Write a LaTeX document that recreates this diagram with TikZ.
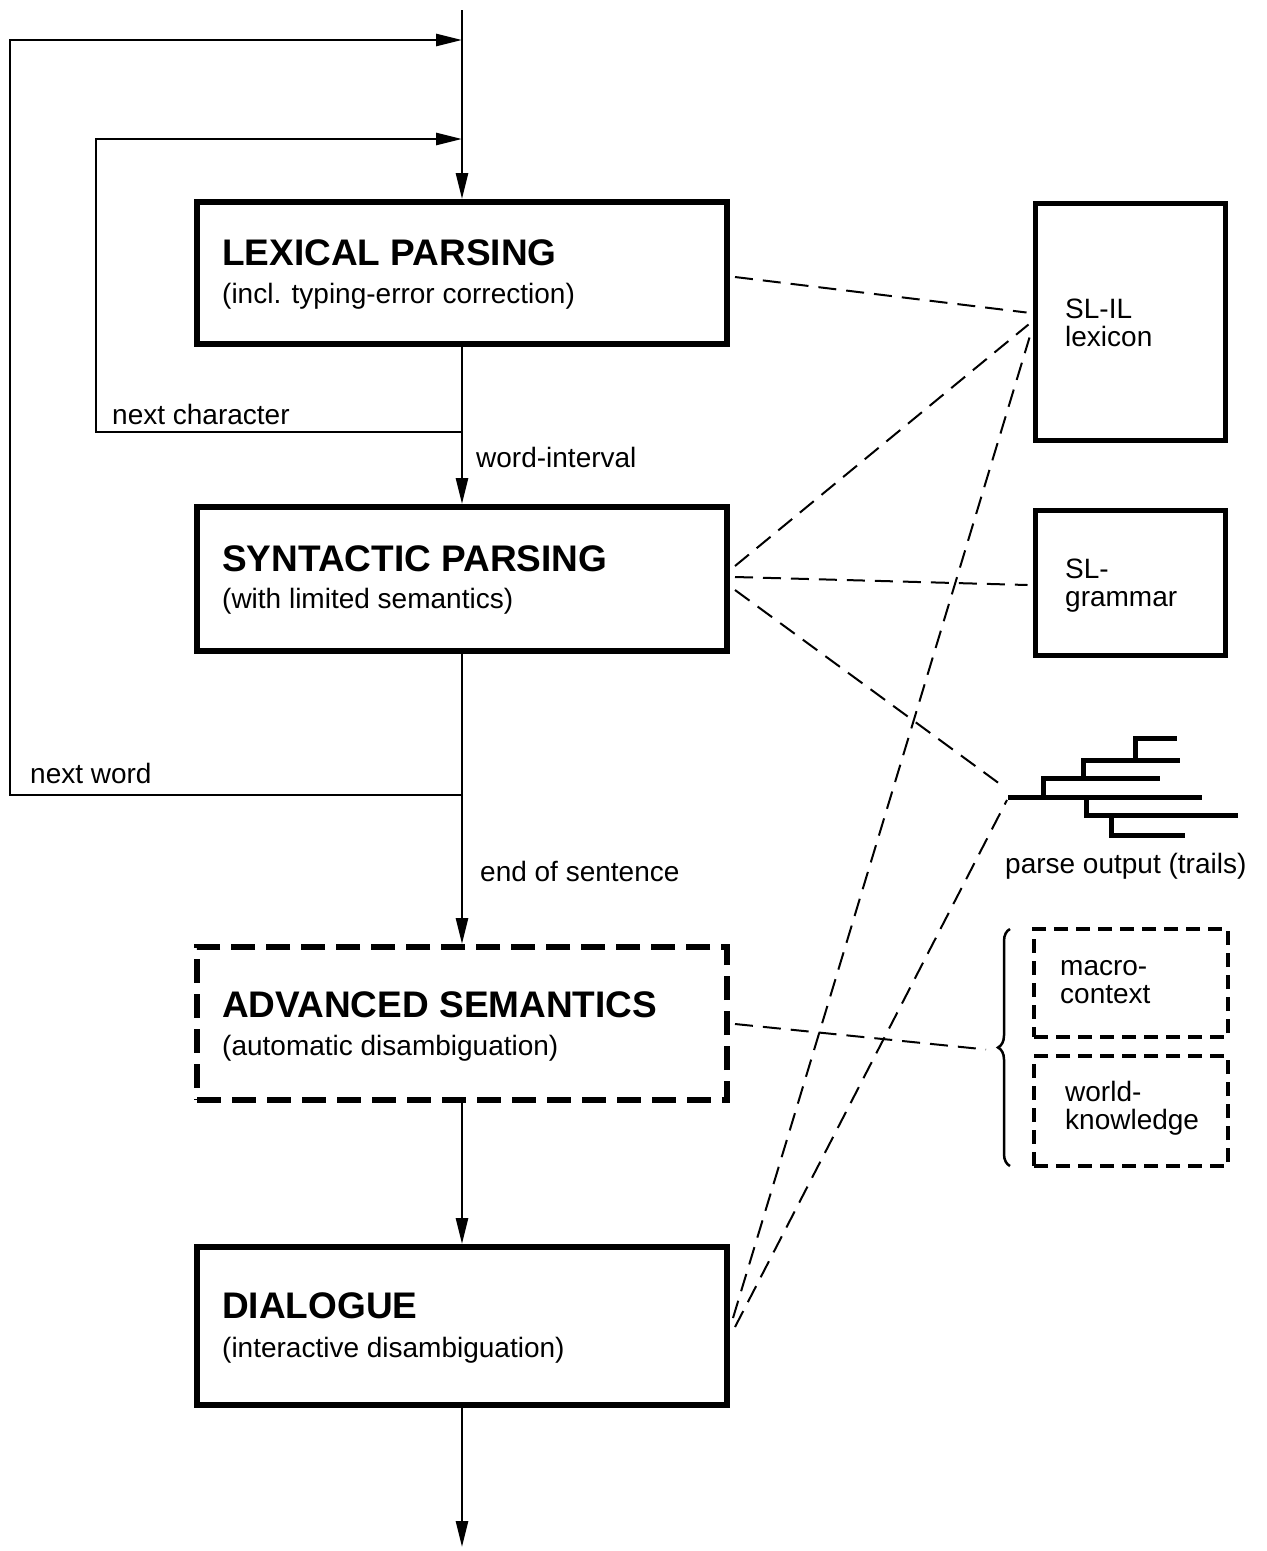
\documentclass[tikz,border=0pt]{standalone}
\usepackage{fontspec}
\setmainfont{Liberation Sans}
\usetikzlibrary{arrows.meta,decorations.pathreplacing}

\begin{document}
\begin{tikzpicture}[x=1pt,y=-1pt,
  stage/.style={draw, line width=6pt, minimum width=530pt, inner sep=0pt},
  stagedash/.style={stage, dash pattern=on 24pt off 11pt},
  store/.style={draw, line width=5pt, minimum width=190pt, inner sep=0pt},
  storedash/.style={draw, line width=3.5pt, dash pattern=on 14pt off 8pt, minimum width=194pt, inner sep=0pt},
  title/.style={anchor=base west, inner sep=0pt, font=\fontsize{37}{40}\selectfont\bfseries},
  sub/.style={anchor=base west, inner sep=0pt, font=\fontsize{28}{30}\selectfont},
  lbl/.style={anchor=base west, inner sep=0pt, font=\fontsize{28}{30}\selectfont},
  flow/.style={line width=2.8pt, -{Triangle[length=26pt,width=12pt]}},
  link/.style={line width=2pt, dash pattern=on 18pt off 10pt},
  trail/.style={line width=5pt},
]
\useasboundingbox (0,0) rectangle (1267,1551);
\fill[white] (0,0) rectangle (1267,1551);

% processing stages
\node[stage, minimum height=142pt] (lex) at (462,273) {};
\node[stage, minimum height=144pt] (syn) at (462,579) {};
\node[stagedash, minimum height=153pt] (adv) at (462,1023.5) {};
\node[stage, minimum height=158pt] (dia) at (462,1326) {};

\node[title] (lexA) at (222,265) {LEXICAL PARSING};
\node[sub] (lexB) at (222,303) {(incl. typing-error correction)};
\node[title] (synA) at (222,571) {SYNTACTIC PARSING};
\node[sub] (synB) at (222,608) {(with limited semantics)};
\node[title] (advA) at (222,1017) {ADVANCED SEMANTICS};
\node[sub] (advB) at (222,1055) {(automatic disambiguation)};
\node[title] (diaA) at (222,1318) {DIALOGUE};
\node[sub] (diaB) at (222,1357) {(interactive disambiguation)};

% knowledge sources
\node[store, minimum height=237pt] (lexicon) at (1130,321.5) {};
\node[store, minimum height=145pt] (grammar) at (1130,582.5) {};
\node[storedash, minimum height=108pt] (macro) at (1131,983) {};
\node[storedash, minimum height=110pt] (world) at (1131,1111) {};

\node[lbl] (lexiconA) at (1065,318) {SL-IL};
\node[lbl] (lexiconB) at (1065,346) {lexicon};
\node[lbl] (grammarA) at (1065,578) {SL-};
\node[lbl] (grammarB) at (1065,606) {grammar};
\node[lbl] (macroA) at (1060,975) {macro-};
\node[lbl] (macroB) at (1060,1003) {context};
\node[lbl] (worldA) at (1065,1101) {world-};
\node[lbl] (worldB) at (1065,1129) {knowledge};

% flow labels
\node[lbl] (ncLbl) at (112,424) {next character};
\node[lbl] (wiLbl) at (476,467) {word-interval};
\node[lbl] (nwLbl) at (30,783) {next word};
\node[lbl] (esLbl) at (480,881) {end of sentence};
\node[lbl] (poLbl) at (1005,873) {parse output (trails)};

% main flow and feedback loops
\coordinate (src) at (462,10);
\coordinate (sink) at (462,1547);
\coordinate (ncJ) at (462,432);
\coordinate (ncC) at (96,139);
\coordinate (ncT) at (462,139);
\coordinate (nwJ) at (462,795);
\coordinate (nwC) at (10,40);
\coordinate (nwT) at (462,40);

\draw[flow] (src) -- (lex.north);
\draw[flow] (lex.south) -- (syn.north);
\draw[flow] (syn.south) -- (adv.north);
\draw[flow] (adv.south) -- (dia.north);
\draw[flow] (dia.south) -- (sink);
\draw[flow] (ncJ) -| (ncC) -- (ncT);
\draw[flow] (nwJ) -| (nwC) -- (nwT);

% parse output tree
\coordinate (tree) at (1008,797);
\draw[trail] (tree) -- (1202,797);
\draw[trail] (1043,797) -- (1043,778) -- (1160,778);
\draw[trail] (1083,778) -- (1083,760) -- (1180,760);
\draw[trail] (1135,760) -- (1135,738) -- (1177,738);
\draw[trail] (1086,797) -- (1086,815) -- (1238,815);
\draw[trail] (1111,815) -- (1111,835) -- (1185,835);

% brace grouping the context sources
\coordinate (braceBot) at (1010,1166);
\coordinate (braceTop) at (1010,929);
\coordinate (braceTip) at (998,1047.5);
\draw[line width=2.5pt, decorate, decoration={brace, amplitude=12pt}] (braceBot) -- (braceTop);

% dashed access lines
\draw[link] ([shift={(5,4)}]lex.east) -- ([shift={(-6,-9)}]lexicon.west);
\draw[link] ([shift={(5,-13)}]syn.east) -- ([shift={(-4,3)}]lexicon.west);
\draw[link] ([shift={(5,-2)}]syn.east) -- ([shift={(-5,2.5)}]grammar.west);
\draw[link] ([shift={(5,11)}]syn.east) -- ([shift={(-4,-10)}]tree);
\draw[link] ([shift={(5,0.5)}]adv.east) -- ([shift={(-12,2)}]braceTip);
\draw[link] ([shift={(3,-8)}]dia.east) -- ([shift={(-3,16)}]lexicon.west);
\draw[link] ([shift={(5,1)}]dia.east) -- ([shift={(-1,3)}]tree);
\end{tikzpicture}
\end{document}
